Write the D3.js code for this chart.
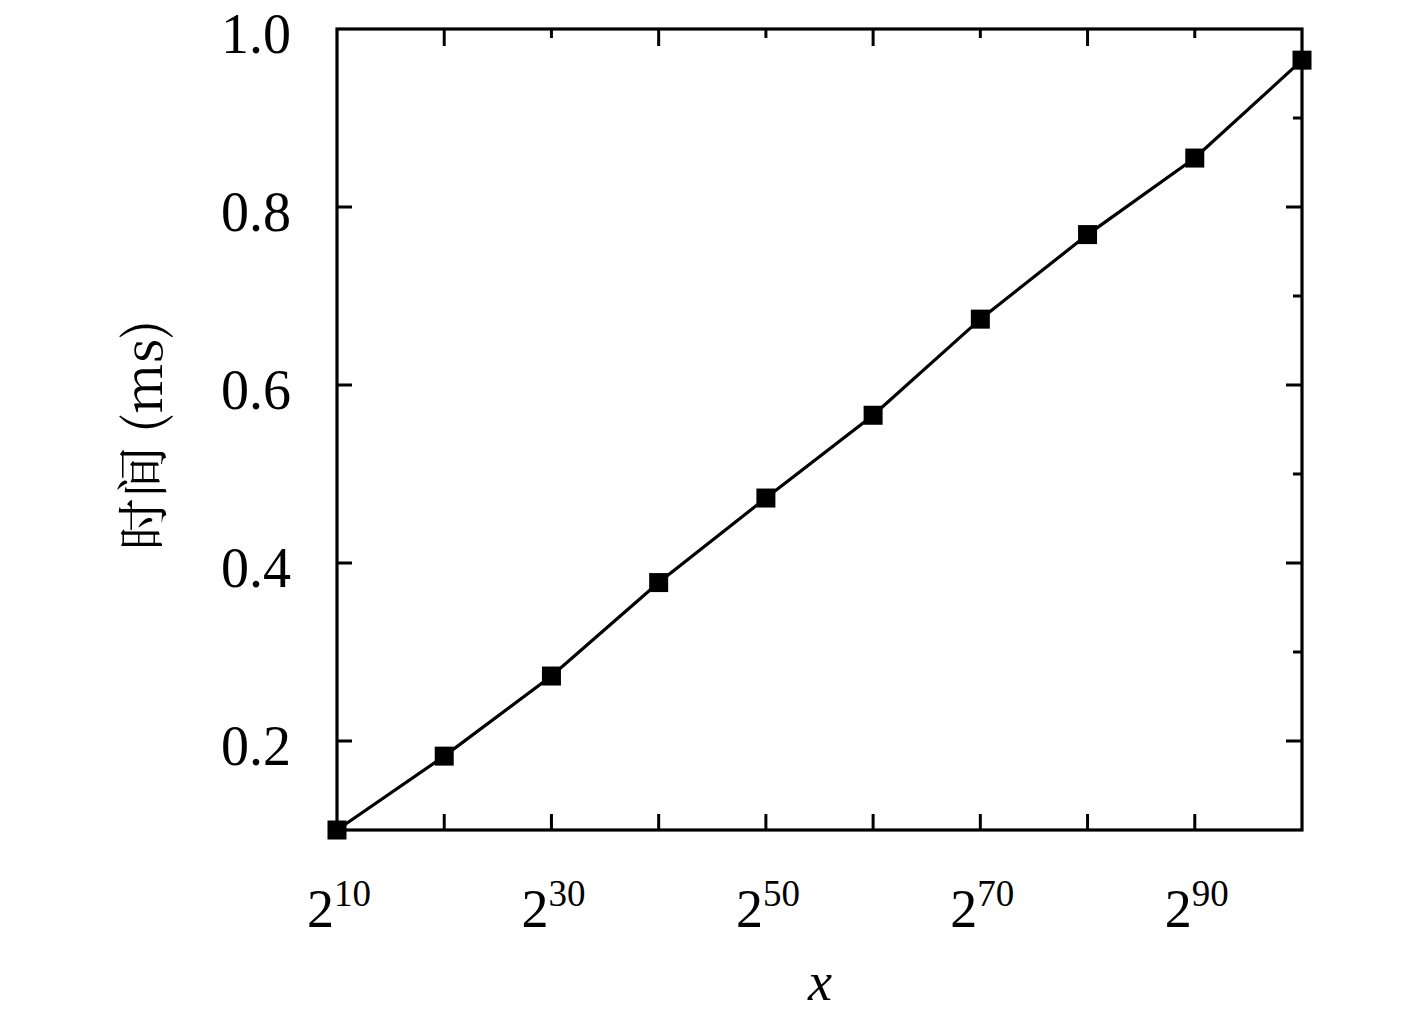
<!DOCTYPE html>
<html><head><meta charset="utf-8">
<script src="https://cdn.jsdelivr.net/npm/d3@7"></script>
<style>body{margin:0;background:#fff}svg{display:block}</style>
</head><body>
<svg id="c" width="1417" height="1023"></svg>
<script>
const exponents = [10,20,30,40,50,60,70,80,90,100];
const times = [0.100,0.183,0.273,0.378,0.473,0.566,0.674,0.769,0.855,0.965];
const xLabelExps = [10,30,50,70,90];
const yTicks = [0.2,0.4,0.6,0.8,1.0];
const yMinor = [0.3,0.5,0.7,0.9];
const yLabel = "时间 (ms)";
const xLabel = "x";

const svg = d3.select("#c");
const L=337, R=1302, T=29, B=830;
const x = d3.scaleLinear().domain([10,100]).range([L,R]);
const y = d3.scaleLinear().domain([0.1,1.0]).range([B,T]);
const serif = "'Liberation Serif','DejaVu Serif',serif";

const g = svg.append("g");
const tk = g.append("g").attr("stroke","#000").attr("stroke-width",3);
exponents.slice(1,-1).forEach(e=>{
  tk.append("line").attr("x1",x(e)).attr("x2",x(e)).attr("y1",B).attr("y2",B-16);
  const long = (e%20===0);
  tk.append("line").attr("x1",x(e)).attr("x2",x(e)).attr("y1",T).attr("y2",T+(long?17:9));
});
yTicks.filter(v=>v<1).forEach(v=>{
  tk.append("line").attr("x1",L).attr("x2",L+15).attr("y1",y(v)).attr("y2",y(v));
  tk.append("line").attr("x1",R).attr("x2",R-16).attr("y1",y(v)).attr("y2",y(v));
});
yMinor.forEach(v=>{
  tk.append("line").attr("x1",R).attr("x2",R-9).attr("y1",y(v)).attr("y2",y(v));
});
g.append("rect").attr("x",L).attr("y",T).attr("width",R-L).attr("height",B-T)
 .attr("fill","none").attr("stroke","#000").attr("stroke-width",3.2);

const line = d3.line().x((d,i)=>x(exponents[i])).y(d=>y(d));
g.append("path").datum(times).attr("d",line).attr("fill","none")
 .attr("stroke","#000").attr("stroke-width",3.2);
const s=19;
g.selectAll("rect.m").data(times).join("rect").attr("class","m")
 .attr("x",(d,i)=>x(exponents[i])-s/2).attr("y",d=>y(d)-s/2)
 .attr("width",s).attr("height",s).attr("fill","#000");

g.selectAll("text.yt").data(yTicks).join("text").attr("class","yt")
 .attr("x",291).attr("y",d=>y(d)+24).attr("text-anchor","end")
 .attr("font-family",serif).attr("font-size",56).text(d=>d.toFixed(1));

xLabelExps.forEach(e=>{
  const t = g.append("text").attr("x",x(e)+2).attr("y",927).attr("text-anchor","middle")
   .attr("font-family",serif).attr("font-size",54);
  t.append("tspan").text("2");
  t.append("tspan").attr("font-size",37).attr("dy",-21).text(String(e));
});

g.append("text").attr("x",820).attr("y",1000).attr("text-anchor","middle")
 .attr("font-family",serif).attr("font-style","italic").attr("font-size",54).text(xLabel);
g.append("text").attr("transform","translate(162,435) rotate(-90)").attr("text-anchor","middle")
 .attr("font-family","'Noto Serif CJK SC','Noto Sans CJK SC','Liberation Serif',serif")
 .attr("font-size",52).text(yLabel);
</script>
</body></html>
